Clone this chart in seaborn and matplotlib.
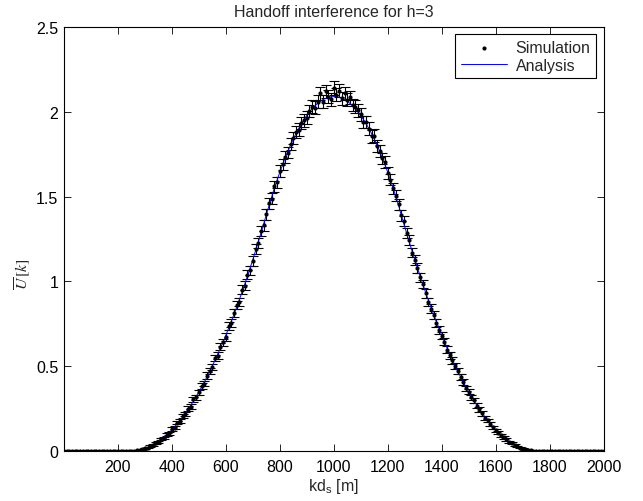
import numpy as np
import pandas as pd
import matplotlib
matplotlib.use("Agg")
import matplotlib.pyplot as plt
import seaborn as sns

# ---- data ----
sim_x = list(range(0, 2001, 10))
sim_y = ([0.0] * 25 + [
    0.000, 0.001, 0.003, 0.006, 0.010, 0.016, 0.020, 0.029, 0.035, 0.047,
    0.052, 0.070, 0.078, 0.097, 0.105, 0.130, 0.138, 0.168, 0.175, 0.205,
    0.218, 0.250, 0.262, 0.305, 0.318, 0.345, 0.385, 0.398, 0.445, 0.470,
    0.495, 0.548, 0.562, 0.615, 0.640, 0.672, 0.735, 0.755, 0.812, 0.860,
    0.880, 0.950, 0.975, 1.040, 1.065, 1.120, 1.190, 1.225, 1.295, 1.330,
    1.395, 1.460, 1.488, 1.560, 1.585, 1.650, 1.690, 1.735, 1.760, 1.810,
    1.845, 1.880, 1.895, 1.935, 1.950, 1.965, 2.005, 2.030, 2.025, 2.060,
    2.110, 2.060, 2.120, 2.090, 2.075, 2.140, 2.100, 2.125, 2.080, 2.110,
    2.070, 2.085, 2.040, 2.030, 2.010, 1.985, 1.940, 1.940, 1.900, 1.855,
    1.860, 1.800, 1.770, 1.725, 1.705, 1.640, 1.600, 1.550, 1.505, 1.455,
    1.390, 1.355, 1.285, 1.245, 1.170, 1.125, 1.080, 1.025, 0.985, 0.930,
    0.880, 0.840, 0.800, 0.755, 0.715, 0.680, 0.645, 0.598, 0.565, 0.535,
    0.500, 0.470, 0.438, 0.408, 0.370, 0.350, 0.318, 0.298, 0.268, 0.245,
    0.222, 0.195, 0.180, 0.158, 0.140, 0.122, 0.108, 0.092, 0.080, 0.068,
    0.055, 0.045, 0.035, 0.028, 0.020, 0.014, 0.010, 0.006, 0.003, 0.001,
] + [0.0] * 26)
sim_err = ([0.0] * 25 + [
    0.000, 0.001, 0.002, 0.002, 0.003, 0.004, 0.004, 0.005, 0.005, 0.006,
    0.006, 0.007, 0.007, 0.008, 0.009, 0.010, 0.010, 0.011, 0.011, 0.012,
    0.013, 0.013, 0.014, 0.015, 0.015, 0.016, 0.017, 0.017, 0.018, 0.018,
    0.019, 0.020, 0.020, 0.021, 0.021, 0.022, 0.023, 0.023, 0.024, 0.024,
    0.025, 0.026, 0.026, 0.027, 0.027, 0.028, 0.029, 0.029, 0.030, 0.030,
    0.031, 0.032, 0.032, 0.033, 0.033, 0.034, 0.034, 0.035, 0.035, 0.036,
    0.036, 0.036, 0.037, 0.037, 0.037, 0.037, 0.038, 0.038, 0.038, 0.038,
    0.039, 0.038, 0.039, 0.039, 0.038, 0.039, 0.039, 0.039, 0.039, 0.039,
    0.038, 0.039, 0.038, 0.038, 0.038, 0.038, 0.037, 0.037, 0.037, 0.036,
    0.036, 0.036, 0.035, 0.035, 0.035, 0.034, 0.034, 0.033, 0.033, 0.032,
    0.031, 0.031, 0.030, 0.030, 0.029, 0.028, 0.028, 0.027, 0.026, 0.026,
    0.025, 0.024, 0.024, 0.023, 0.023, 0.022, 0.021, 0.021, 0.020, 0.020,
    0.019, 0.018, 0.018, 0.017, 0.016, 0.016, 0.015, 0.014, 0.014, 0.013,
    0.013, 0.012, 0.011, 0.011, 0.010, 0.009, 0.009, 0.008, 0.007, 0.007,
    0.006, 0.006, 0.005, 0.004, 0.004, 0.003, 0.003, 0.002, 0.002, 0.001,
] + [0.0] * 26)

ana_x = list(range(0, 2001, 20))
ana_y = ([0.0] * 13 + [
    0.001, 0.005, 0.014, 0.027, 0.045, 0.067, 0.094, 0.125, 0.161, 0.201,
    0.246, 0.295, 0.348, 0.406, 0.469, 0.536, 0.607, 0.683, 0.763, 0.848,
    0.937, 1.031, 1.129, 1.231, 1.338, 1.448, 1.551, 1.644, 1.729, 1.805,
    1.872, 1.930, 1.979, 2.019, 2.050, 2.072, 2.086, 2.090, 2.086, 2.072,
    2.050, 2.019, 1.979, 1.930, 1.872, 1.805, 1.729, 1.644, 1.551, 1.448,
    1.338, 1.231, 1.129, 1.031, 0.937, 0.848, 0.763, 0.683, 0.607, 0.536,
    0.469, 0.406, 0.348, 0.295, 0.246, 0.201, 0.161, 0.125, 0.094, 0.067,
    0.045, 0.027, 0.014, 0.005, 0.001,
] + [0.0] * 13)

x_ticks = [200, 400, 600, 800, 1000, 1200, 1400, 1600, 1800, 2000]
y_ticks = [0, 0.5, 1, 1.5, 2, 2.5]
y_tick_labels = ["0", "0.5", "1", "1.5", "2", "2.5"]

sim_df = pd.DataFrame({"x": sim_x, "y": sim_y, "err": sim_err})
ana_df = pd.DataFrame({"x": ana_x, "y": ana_y})

# ---- style ----
sns.set_style("ticks")
plt.rcParams["font.family"] = ["Liberation Sans", "DejaVu Sans"]
plt.rcParams["mathtext.fontset"] = "stix"
plt.rcParams["xtick.direction"] = "in"
plt.rcParams["ytick.direction"] = "in"

FS = 11.5

fig = plt.figure(figsize=(6.43, 5.02), dpi=100)
ax = fig.add_axes([0.0995, 0.0996, 0.8392, 0.8446])

ax.errorbar(sim_df["x"], sim_df["y"], yerr=sim_df["err"], fmt="none",
            ecolor="black", elinewidth=0.8, capsize=3.8, capthick=0.8, zorder=2)
sns.lineplot(data=ana_df, x="x", y="y", ax=ax, color="#0000ff", linewidth=0.7,
             label="Analysis", zorder=3)
sns.scatterplot(data=sim_df, x="x", y="y", ax=ax, color="black", s=9,
                edgecolor="black", linewidth=0, label="Simulation", zorder=4)

ax.set_xlim(0, 2000)
ax.set_ylim(0, 2.5)
ax.set_xticks(x_ticks)
ax.set_xticklabels([str(t) for t in x_ticks])
ax.set_yticks(y_ticks)
ax.set_yticklabels(y_tick_labels)
ax.tick_params(axis="both", which="both", top=True, right=True, labelsize=FS,
               length=5, width=0.6, color="black", labelcolor="black")
ax.tick_params(axis="y", pad=4)
ax.tick_params(axis="x", pad=6)
for s in ax.spines.values():
    s.set_visible(True)
    s.set_color("black")
    s.set_linewidth(0.8)

ax.set_title("Handoff interference for h=3", fontsize=FS, pad=8)
ax.set_xlabel(r"kd$_\mathregular{s}$ [m]", fontsize=FS, labelpad=1)
ax.set_ylabel(r"$\overline{U}\,[k]$", fontsize=FS)
ax.yaxis.set_label_coords(-0.058, 0.42)

handles, labels = ax.get_legend_handles_labels()
order = [labels.index("Simulation"), labels.index("Analysis")]
leg = ax.legend([handles[i] for i in order], [labels[i] for i in order],
                loc="upper right", fontsize=FS, frameon=True, fancybox=False,
                framealpha=1, edgecolor="black", handlelength=2.9,
                borderpad=0.37, labelspacing=0.15, borderaxespad=0.45,
                handletextpad=0.55)
leg.get_frame().set_linewidth(0.8)

fig.savefig("out.png", dpi=100)
